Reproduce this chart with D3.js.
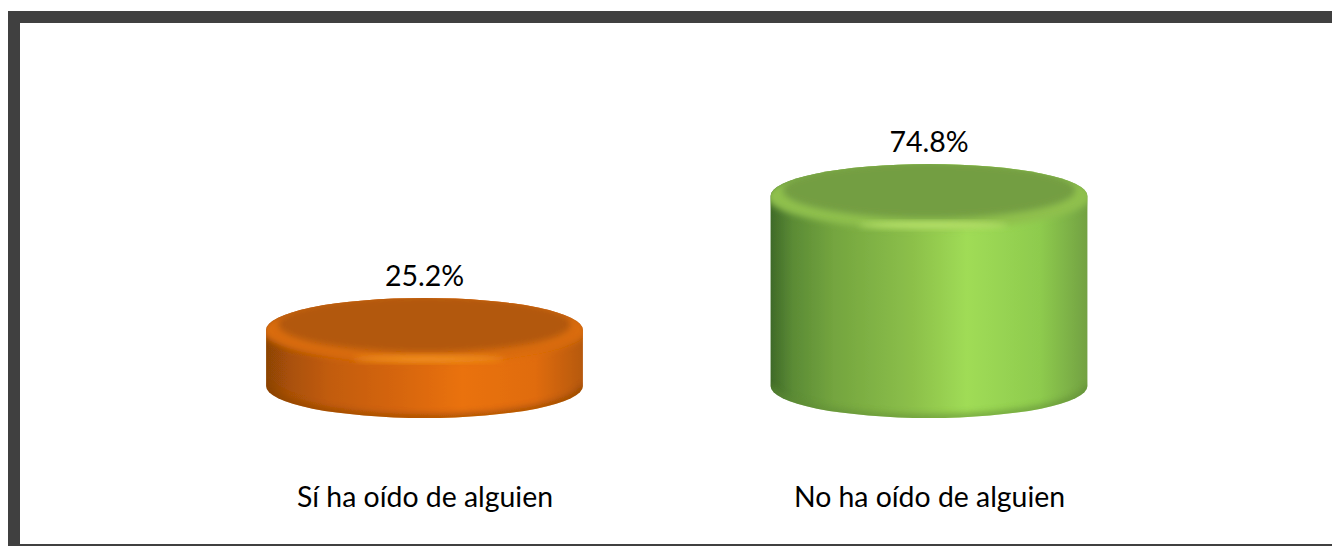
<!DOCTYPE html>
<meta charset="utf-8">
<style>
html, body { margin: 0; padding: 0; background: #fff; }
svg { display: block; }
text { font-family: Lato, "Open Sans", sans-serif; fill: #000; text-anchor: middle; }
</style>
<svg width="1332" height="546"></svg>
<script src="https://d3js.org/d3.v7.min.js"></script>
<script>

// chart values
var categories = ["Sí ha oído de alguien", "No ha oído de alguien"];
var values = [25.2, 74.8];
var value_labels = ["25.2%", "74.8%"];

// shades for each cylinder: side stops, top face, rim, rim highlight, bottom edge
var side_colours = [
  ["#8c4306", "#a85007", "#c25c09", "#d9670a", "#ea720c", "#e06c0b", "#b6590a"],
  ["#3f6a28", "#5b8b35", "#74a53f", "#8cc04a", "#a0dc56", "#8ecb4e", "#72a142"]
];
var top_colours = ["#b2590a", "#739e42"];
var rim_colours = ["#d96c10", "#8fc04e"];
var shine_colours = ["#ffa52a", "#cdf57a"];
var edge_colours = ["#8a4206", "#5f8c34"];

var width = 1332, height = 546;
var floor_y = 386;   // centre of the bottom ellipse
var radius_y = 32;

var svg = d3.select("svg");
var defs = svg.append("defs");

var x = d3.scaleBand()
    .domain(categories)
    .range([172.25, 1181.25])
    .paddingInner(0.372)
    .paddingOuter(0.186);

var y = d3.scaleLinear()
    .domain([0, 100])
    .range([398, 128]);

// picture frame, only left, top and a thin line at the bottom
svg.append("rect").attr("x", 8).attr("y", 11).attr("width", 1324).attr("height", 12).style("fill", "#404040");
svg.append("rect").attr("x", 8).attr("y", 11).attr("width", 12).attr("height", 535).style("fill", "#404040");
svg.append("rect").attr("x", 20).attr("y", 544).attr("width", 1312).attr("height", 2).style("fill", "#404040");

function addBlur(id, amount) {
  defs.append("filter")
      .attr("id", id)
      .attr("x", "-20%").attr("y", "-50%")
      .attr("width", "140%").attr("height", "200%")
    .append("feGaussianBlur")
      .attr("stdDeviation", amount);
}
addBlur("blur_image", 0.7);
addBlur("blur_soft", 1.5);
addBlur("blur_mid", 3);
addBlur("blur_wide", 5);

var side_offsets = [0, 0.07, 0.2, 0.45, 0.62, 0.85, 1];

categories.forEach(function(cat, i) {
  var left = x(cat), w = x.bandwidth(), rx = w / 2, cx = left + rx;
  var top_y = y(values[i]);

  var grad = defs.append("linearGradient").attr("id", "side_" + i);
  side_colours[i].forEach(function(c, k) {
    grad.append("stop").attr("offset", side_offsets[k]).attr("stop-color", c);
  });

  var body = "M" + left + "," + top_y +
      "V" + floor_y +
      "A" + rx + "," + radius_y + " 0 0 0 " + (left + w) + "," + floor_y +
      "V" + top_y +
      "A" + rx + "," + radius_y + " 0 0 0 " + left + "," + top_y + "Z";

  defs.append("clipPath").attr("id", "clip_" + i).append("path").attr("d", body);

  var g = svg.append("g").attr("class", "cylinder").attr("filter", "url(#blur_image)");

  g.append("path").attr("d", body).style("fill", "url(#side_" + i + ")");

  var inner = g.append("g").attr("clip-path", "url(#clip_" + i + ")");

  // darker rounded edge along the bottom
  inner.append("path")
      .attr("d", "M" + left + "," + floor_y + "A" + rx + "," + radius_y + " 0 0 0 " + (left + w) + "," + floor_y)
      .style("fill", "none")
      .style("stroke", edge_colours[i])
      .style("stroke-width", 8)
      .style("opacity", 0.6)
      .attr("filter", "url(#blur_mid)");

  // rim of the top, blends into the side
  inner.append("ellipse")
      .attr("cx", cx).attr("cy", top_y)
      .attr("rx", rx + 4).attr("ry", radius_y + 1)
      .style("fill", rim_colours[i])
      .attr("filter", "url(#blur_mid)");

  // top face
  inner.append("ellipse")
      .attr("cx", cx).attr("cy", top_y - 6)
      .attr("rx", rx - 12).attr("ry", radius_y - 4)
      .style("fill", top_colours[i])
      .attr("filter", "url(#blur_mid)");

  // highlight on the front of the rim
  inner.append("ellipse")
      .attr("cx", cx + 4).attr("cy", top_y + radius_y - 3)
      .attr("rx", 75).attr("ry", 3)
      .style("fill", shine_colours[i])
      .style("opacity", 0.75)
      .attr("filter", "url(#blur_mid)");

  // value label
  svg.append("text")
      .attr("x", cx)
      .attr("y", top_y - 44)
      .style("font-size", "28.5px")
      .text(value_labels[i]);

  // category label
  svg.append("text")
      .attr("x", cx + 0.5)
      .attr("y", 507)
      .style("font-size", "28.4px")
      .text(cat);
});

</script>
